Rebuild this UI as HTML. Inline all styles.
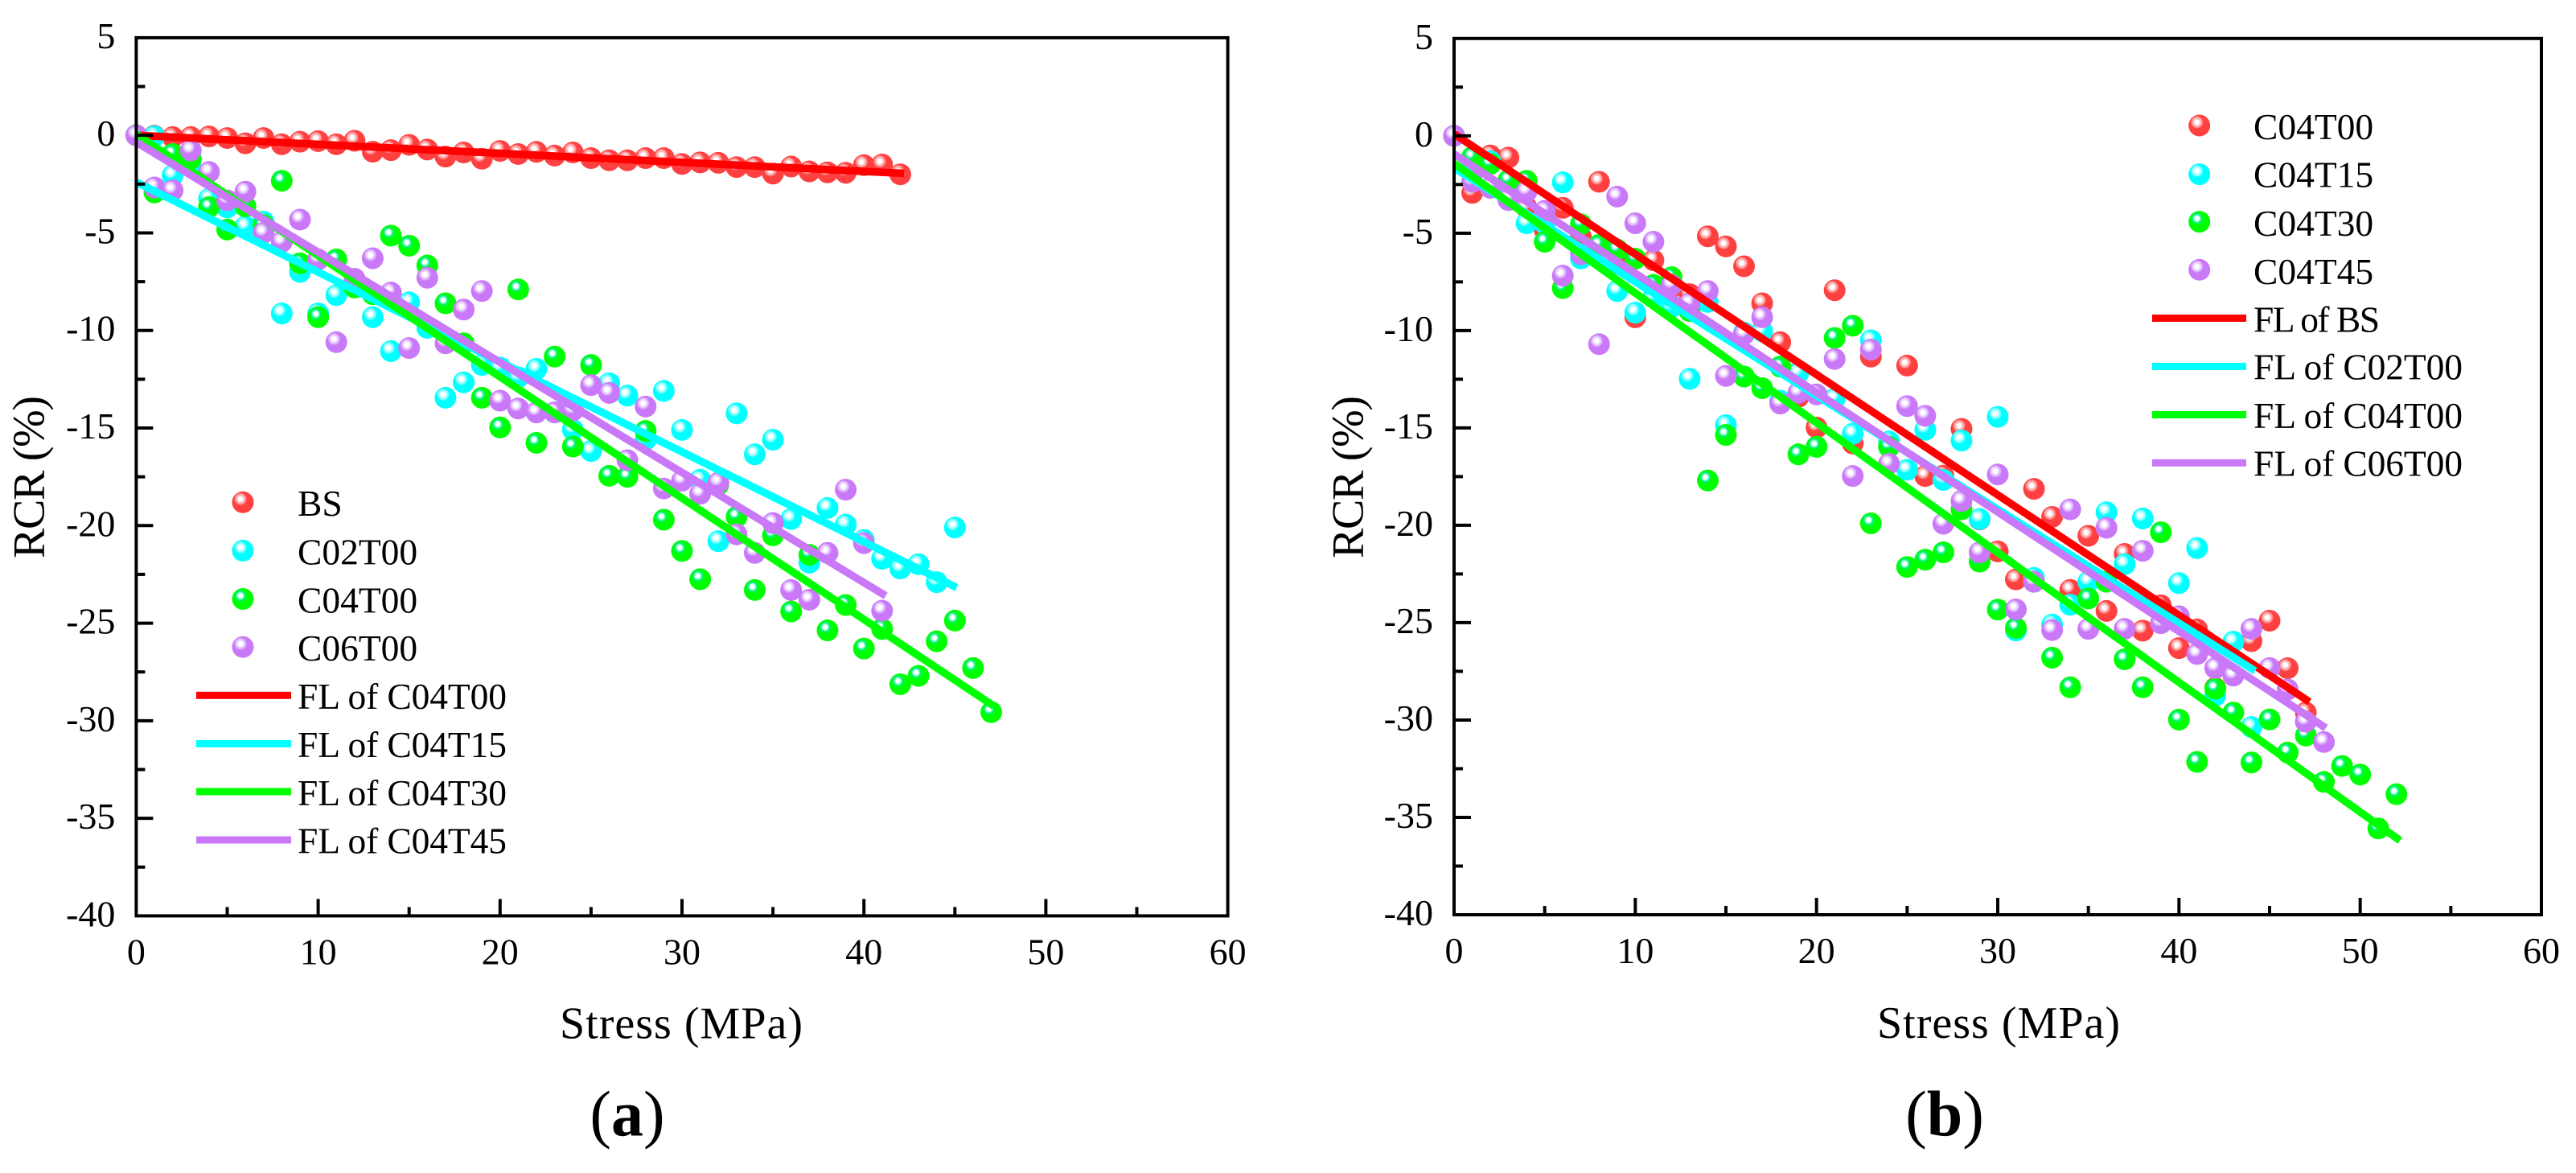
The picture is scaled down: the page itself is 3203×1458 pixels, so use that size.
<!DOCTYPE html>
<html lang="en">
<head>
<meta charset="utf-8">
<title>RCR versus stress</title>
<style>
html,body{margin:0;padding:0;background:#fff;}
svg{display:block;}
text{font-family:"Liberation Serif",serif;fill:#000;}
.tick{font-size:46px;}
.leg{font-size:45.5px;}
.title{font-size:56px;}
.cap{font-size:80px;}
</style>
</head>
<body>
<svg id="figure" xmlns="http://www.w3.org/2000/svg" width="3203" height="1458" viewBox="0 0 3203 1458">
<defs>
<radialGradient id="ball-red" cx="0.39" cy="0.35" r="0.5">
<stop offset="0" stop-color="#fff"/><stop offset="0.2" stop-color="#fff"/><stop offset="0.3" stop-color="#ffc4c4"/><stop offset="0.45" stop-color="#ffa0a0"/><stop offset="0.6" stop-color="#ff4040"/><stop offset="1" stop-color="#ff4040"/>
</radialGradient>
<radialGradient id="ball-cyan" cx="0.39" cy="0.35" r="0.5">
<stop offset="0" stop-color="#fff"/><stop offset="0.2" stop-color="#fff"/><stop offset="0.3" stop-color="#b8ffff"/><stop offset="0.45" stop-color="#80ffff"/><stop offset="0.6" stop-color="#00ffff"/><stop offset="1" stop-color="#00ffff"/>
</radialGradient>
<radialGradient id="ball-green" cx="0.39" cy="0.35" r="0.5">
<stop offset="0" stop-color="#fff"/><stop offset="0.18" stop-color="#fff"/><stop offset="0.28" stop-color="#90ffc8"/><stop offset="0.42" stop-color="#00f080"/><stop offset="0.6" stop-color="#00ff00"/><stop offset="1" stop-color="#00ff00"/>
</radialGradient>
<radialGradient id="ball-purple" cx="0.39" cy="0.35" r="0.5">
<stop offset="0" stop-color="#fff"/><stop offset="0.2" stop-color="#fff"/><stop offset="0.3" stop-color="#efdcff"/><stop offset="0.45" stop-color="#e0b8ff"/><stop offset="0.6" stop-color="#c978f8"/><stop offset="1" stop-color="#c978f8"/>
</radialGradient>
</defs>

<g id="panel-a"></g>
<g id="panel-b"></g>

<g>
<circle cx="302" cy="624.3" r="13.5" fill="url(#ball-red)"/>
<circle cx="302" cy="684.4" r="13.5" fill="url(#ball-cyan)"/>
<circle cx="302" cy="744.5" r="13.5" fill="url(#ball-green)"/>
<circle cx="302" cy="804.2" r="13.5" fill="url(#ball-purple)"/>
<rect x="244" y="859.8" width="118" height="9" fill="#ff0000"/>
<rect x="244" y="919.9" width="118" height="9" fill="#00ffff"/>
<rect x="244" y="979.5" width="118" height="9" fill="#00ff00"/>
<rect x="244" y="1039.5" width="118" height="9" fill="#c978f8"/>
<text class="leg" x="370" y="641">BS</text>
<text class="leg" x="370" y="701.6">C02T00</text>
<text class="leg" x="370" y="761.7">C04T00</text>
<text class="leg" x="370" y="821">C06T00</text>
<text class="leg" x="370" y="880.8" textLength="260">FL of C04T00</text>
<text class="leg" x="370" y="940.8" textLength="260">FL of C04T15</text>
<text class="leg" x="370" y="1001" textLength="260">FL of C04T30</text>
<text class="leg" x="370" y="1060.7" textLength="260">FL of C04T45</text>
</g>

<g>
<circle cx="2734.7" cy="156" r="13.5" fill="url(#ball-red)"/>
<circle cx="2734.7" cy="216.6" r="13.5" fill="url(#ball-cyan)"/>
<circle cx="2734.7" cy="275.6" r="13.5" fill="url(#ball-green)"/>
<circle cx="2734.7" cy="335.3" r="13.5" fill="url(#ball-purple)"/>
<rect x="2676" y="391" width="117" height="9" fill="#ff0000"/>
<rect x="2676" y="451" width="117" height="9" fill="#00ffff"/>
<rect x="2676" y="511" width="117" height="9" fill="#00ff00"/>
<rect x="2676" y="570.8" width="117" height="9" fill="#c978f8"/>
<text class="leg" x="2802" y="173">C04T00</text>
<text class="leg" x="2802" y="232.7">C04T15</text>
<text class="leg" x="2802" y="292.8">C04T30</text>
<text class="leg" x="2802" y="353">C04T45</text>
<text class="leg" x="2802" y="412.6" textLength="157">FL of BS</text>
<text class="leg" x="2802" y="471.6" textLength="260">FL of C02T00</text>
<text class="leg" x="2802" y="532" textLength="260">FL of C04T00</text>
<text class="leg" x="2802" y="591.4" textLength="260">FL of C06T00</text>
</g>

<text class="title" x="847" y="1290.5" text-anchor="middle" textLength="302">Stress (MPa)</text>
<text class="title" x="2485" y="1290" text-anchor="middle" textLength="302">Stress (MPa)</text>
<text class="title" transform="translate(54.6,593) rotate(-90)" text-anchor="middle" textLength="202">RCR (%)</text>
<text class="title" transform="translate(1694.4,593) rotate(-90)" text-anchor="middle" textLength="202">RCR (%)</text>
<text class="cap" x="780" y="1411.5" text-anchor="middle">(<tspan font-weight="bold">a</tspan>)</text>
<text class="cap" x="2418" y="1411.5" text-anchor="middle">(<tspan font-weight="bold">b</tspan>)</text>
</svg>

<script>
// ---------- shared axes data ----------
const stress = [0,1,2,3,4,5,6,7,8,9,10,11,12,13,14,15,16,17,18,19,20,21,22,23,24,25,26,27,28,29,30,31,32,33,34,35,36,37,38,39,40,41,42,43,44,45,46,47,48,49,50,51,52];
const xMajorTicks = [0,10,20,30,40,50,60];
const xMinorTicks = [5,15,25,35,45,55];
const yMajorTicks = [5,0,-5,-10,-15,-20,-25,-30,-35,-40];
const yMinorTicks = [2.5,-2.5,-7.5,-12.5,-17.5,-22.5,-27.5,-32.5,-37.5];

// ---------- panel (a) series ----------
const aBS = [0,-0.02,-0.09,-0.09,-0.06,-0.14,-0.41,-0.14,-0.46,-0.33,-0.3,-0.46,-0.28,-0.84,-0.76,-0.49,-0.73,-1.09,-0.88,-1.2,-0.8,-0.96,-0.85,-1.04,-0.88,-1.17,-1.28,-1.28,-1.17,-1.17,-1.47,-1.39,-1.41,-1.63,-1.63,-1.96,-1.6,-1.85,-1.9,-1.92,-1.53,-1.5,-2.0];
const aC02T00 = [0,-0.05,-2.05,-1.6,-3.25,-3.7,-4.67,-4.43,-9.13,-7,-9.13,-8.19,-7.7,-9.32,-11.06,-8.56,-9.87,-13.45,-12.66,-11.77,-11.9,-12.4,-11.97,-14.2,-15.08,-16.18,-12.71,-13.34,-15.6,-13.1,-15.1,-17.65,-20.8,-14.25,-16.35,-15.6,-19.66,-21.9,-19.1,-19.95,-20.74,-21.7,-22.2,-21.98,-22.9,-20.1];
const aC04T00 = [0,-2.93,-0.96,-1.2,-3.68,-4.83,-3.64,-4.6,-2.33,-6.56,-9.32,-6.36,-7.8,-8.14,-5.14,-5.66,-6.67,-8.61,-10.66,-13.45,-14.97,-7.9,-15.76,-11.34,-15.95,-11.77,-17.45,-17.5,-15.15,-19.7,-21.3,-22.75,-17.9,-19.55,-23.3,-20.5,-24.4,-21.5,-25.37,-24.07,-26.3,-25.3,-28.13,-27.7,-25.93,-24.87,-27.3,-29.56];
const aC06T00 = [0,-2.67,-2.82,-0.77,-1.88,-3.33,-2.89,-5.0,-5.46,-4.32,-6.36,-10.6,-7.35,-6.3,-8.06,-10.9,-7.3,-10.66,-8.93,-7.98,-13.6,-14,-14.2,-14.2,-14.1,-12.8,-13.2,-16.65,-13.9,-18.1,-17.7,-18.37,-17.8,-20.45,-21.4,-19.87,-23.3,-23.8,-21.4,-18.16,-20.9,-24.36];
const aFitStress = { red:[0,42.2], cyan:[0,45.1], green:[0,47.15], purple:[0,41.2] };
const aFitRed = [0,-1.95];
const aFitCyan = [-2.4,-23.18];
const aFitGreen = [0.05,-29.25];
const aFitPurple = [-0.35,-23.6];

// ---------- panel (b) series ----------
const bC04T00 = [0,-2.93,-1.01,-1.12,-3.68,-4.83,-3.7,-5.2,-2.36,-6.56,-9.32,-6.39,-7.8,-8.13,-5.16,-5.68,-6.7,-8.6,-10.6,-13.4,-14.98,-7.93,-15.8,-11.34,-15.95,-11.8,-17.47,-17.45,-15.05,-19.7,-21.34,-22.78,-18.13,-19.57,-23.32,-20.54,-24.4,-21.47,-25.41,-24.11,-26.31,-25.35,-28.35,-27.7,-25.95,-24.9,-27.34,-29.62];
const bC04T15 = [0,-1.5,-1.3,-2.7,-4.49,-4.5,-2.39,-6.3,-5.68,-7.97,-9.08,-8.29,-8.8,-12.48,-8.53,-14.86,-10.1,-10.03,-13.6,-12.17,-15.97,-13.5,-15.3,-10.5,-15.7,-17.15,-15.1,-17.67,-15.65,-19.68,-14.43,-25.4,-22.7,-25.1,-24.08,-22.9,-19.33,-22,-19.65,-24.5,-22.97,-21.17,-28.75,-25.98,-30.36];
const bC04T30 = [0,-1.09,-1.44,-2.28,-2.31,-5.44,-7.82,-4.54,-5.6,-5.84,-6.31,-7.66,-7.26,-9,-17.7,-15.36,-12.36,-12.96,-11.85,-16.36,-15.97,-10.38,-9.75,-19.9,-15.97,-22.14,-21.77,-21.39,-19.18,-21.87,-24.33,-25.27,-22.9,-26.8,-28.32,-23.76,-22.9,-26.88,-28.32,-20.36,-29.98,-32.15,-28.39,-29.62,-32.18,-29.97,-31.67,-30.8,-33.18,-32.36,-32.8,-35.57,-33.81];
const bC04T45 = [0,-2.36,-2.67,-3.3,-2.86,-3.86,-7.18,-6.08,-10.7,-3.12,-4.49,-5.44,-7.66,-8.6,-7.97,-12.33,-10.19,-9.32,-13.75,-13.2,-13.28,-11.46,-17.47,-10.98,-16.84,-13.88,-14.38,-19.92,-18.75,-21.39,-17.39,-24.32,-22.9,-25.38,-19.18,-25.32,-20.13,-25.32,-21.31,-25.03,-24.67,-26.61,-27.33,-27.72,-25.32,-27.33,-28.43,-30.09,-31.13];
const bFitStress = { red:[0,47.2], cyan:[0,44.2], green:[0,52.2], purple:[0,48.1] };
const bFitRed = [0.1,-29.07];
const bFitCyan = [-1.65,-27.48];
const bFitGreen = [-1.41,-36.19];
const bFitPurple = [-0.93,-30.41];

// ---------- drawing ----------
const NS = 'http://www.w3.org/2000/svg';
function make(tag, attrs, parent) {
  const el = document.createElementNS(NS, tag);
  for (const k in attrs) el.setAttribute(k, attrs[k]);
  parent.appendChild(el);
  return el;
}

function drawPanel(opts) {
  const g = document.getElementById(opts.id);
  const sx = v => opts.x0 + (v - 0) * (opts.x60 - opts.x0) / 60;
  const sy = v => opts.yTop + (5 - v) * (opts.yBottom - opts.yTop) / 45;

  // scatter markers
  opts.scatter.forEach(s => {
    const sg = make('g', {}, g);
    
    
    s.values.forEach((v, i) => {
      const c = make('circle', { cx: sx(stress[i]), cy: sy(v), r: 13.5, fill: 'url(#' + s.ball + ')' }, sg);
      
      
    });
  });

  // fit lines
  opts.fits.forEach(f => {
    const l = make('line', { x1: sx(f.xs[0]), y1: sy(f.ys[0]), x2: sx(f.xs[1]), y2: sy(f.ys[1]), stroke: f.color, 'stroke-width': 9.5 }, g);
    
    
  });

  // frame
  const frame = make('rect', { x: opts.x0, y: opts.yTop, width: opts.x60 - opts.x0, height: opts.yBottom - opts.yTop, fill: 'none', stroke: '#000', 'stroke-width': 4 }, g);
  
  

  // x ticks
  xMajorTicks.forEach(v => {
    if (v > 0 && v < 60) {
      const t = make('line', { x1: sx(v), x2: sx(v), y1: opts.yBottom, y2: opts.yBottom - 21, stroke: '#000', 'stroke-width': 4 }, g);
      
      
    }
    const lab = make('text', { class: 'tick', x: sx(v), y: opts.yBottom + 60, 'text-anchor': 'middle' }, g);
    
    
    lab.textContent = String(v);
  });
  xMinorTicks.forEach(v => {
    const t = make('line', { x1: sx(v), x2: sx(v), y1: opts.yBottom, y2: opts.yBottom - 11, stroke: '#000', 'stroke-width': 4 }, g);
    
    
  });

  // y ticks
  yMajorTicks.forEach(v => {
    if (v < 5 && v > -40) {
      const t = make('line', { x1: opts.x0, x2: opts.x0 + 21, y1: sy(v), y2: sy(v), stroke: '#000', 'stroke-width': 4 }, g);
      
      
    }
    const lab = make('text', { class: 'tick', x: opts.x0 - 26, y: sy(v) + 13, 'text-anchor': 'end' }, g);
    
    
    lab.textContent = String(v);
  });
  yMinorTicks.forEach(v => {
    const t = make('line', { x1: opts.x0, x2: opts.x0 + 11, y1: sy(v), y2: sy(v), stroke: '#000', 'stroke-width': 4 }, g);
    
    
  });
}

drawPanel({
  id: 'panel-a', x0: 169.4, x60: 1526.6, yTop: 46.9, yBottom: 1138.4,
  scatter: [
    { values: aBS, ball: 'ball-red' },
    { values: aC02T00, ball: 'ball-cyan' },
    { values: aC04T00, ball: 'ball-green' },
    { values: aC06T00, ball: 'ball-purple' }
  ],
  fits: [
    { xs: aFitStress.red, ys: aFitRed, color: '#ff0000' },
    { xs: aFitStress.cyan, ys: aFitCyan, color: '#00ffff' },
    { xs: aFitStress.green, ys: aFitGreen, color: '#00ff00' },
    { xs: aFitStress.purple, ys: aFitPurple, color: '#c978f8' }
  ]
});

drawPanel({
  id: 'panel-b', x0: 1808, x60: 3160, yTop: 47.8, yBottom: 1137,
  scatter: [
    { values: bC04T00, ball: 'ball-red' },
    { values: bC04T15, ball: 'ball-cyan' },
    { values: bC04T30, ball: 'ball-green' },
    { values: bC04T45, ball: 'ball-purple' }
  ],
  fits: [
    { xs: bFitStress.red, ys: bFitRed, color: '#ff0000' },
    { xs: bFitStress.cyan, ys: bFitCyan, color: '#00ffff' },
    { xs: bFitStress.green, ys: bFitGreen, color: '#00ff00' },
    { xs: bFitStress.purple, ys: bFitPurple, color: '#c978f8' }
  ]
});
</script>
</body>
</html>
